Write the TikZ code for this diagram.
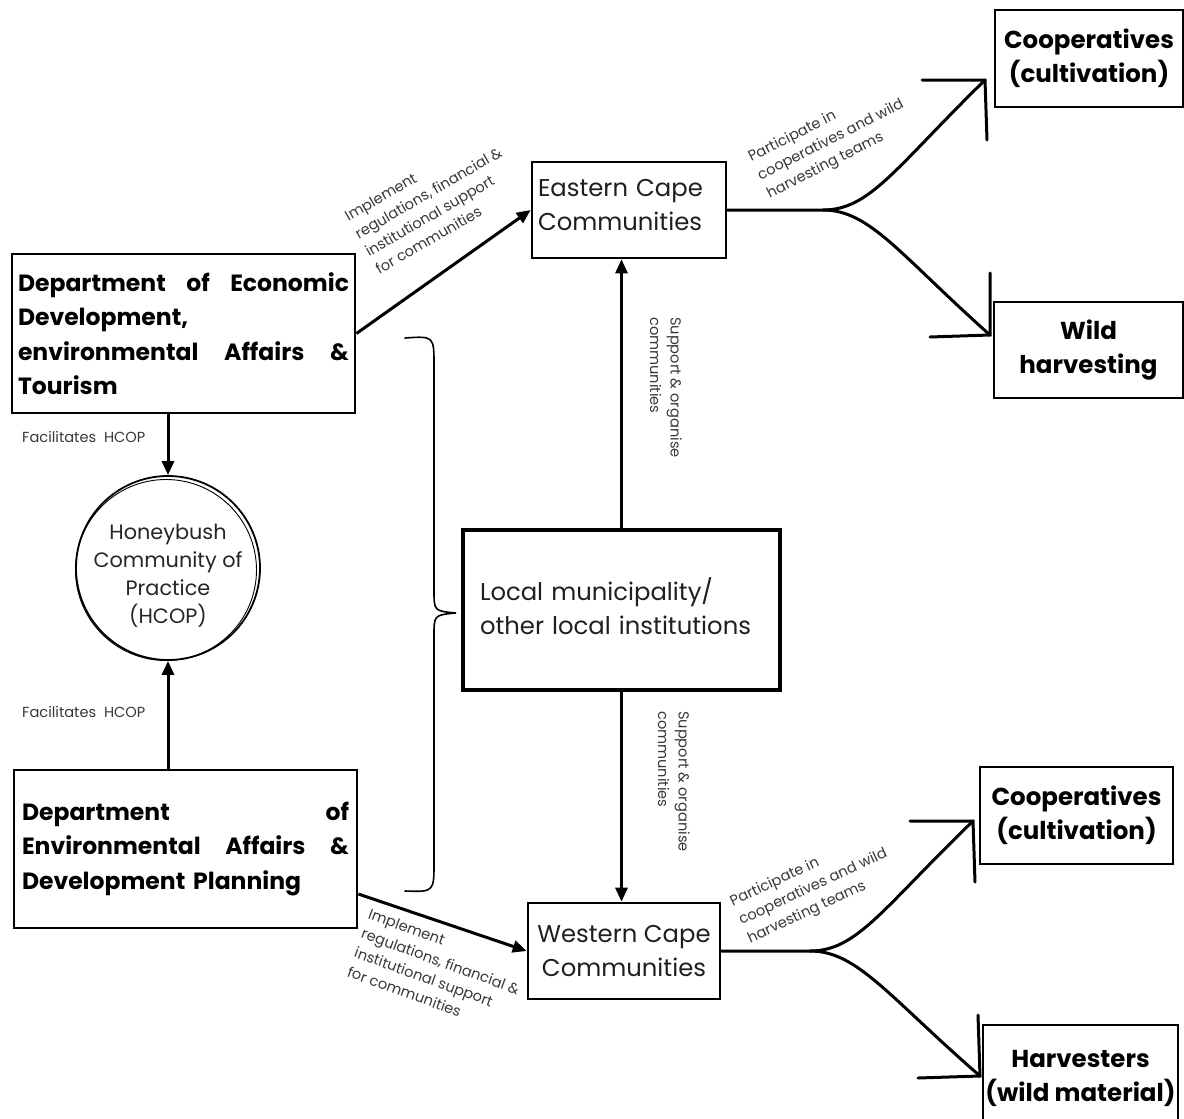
\documentclass[tikz,border=0pt]{standalone}
\usepackage{fontspec}
\setmainfont{Poppins}
\usetikzlibrary{arrows.meta,calc}
\begin{document}
\begin{tikzpicture}[x=1pt,y=-1pt,
  plainbox/.style={draw=black, line width=2.6pt, inner sep=0pt, font=\fontsize{24.3}{34}\selectfont, text=black!88},
  boldbox/.style={draw=black, line width=2.6pt, inner sep=0pt, font=\fontsize{24.5}{34}\selectfont\bfseries, align=center, text=black},
  deptbox/.style={draw=black, line width=2.8pt, inner sep=0pt, font=\fontsize{23.5}{34.5}\selectfont\bfseries, align=left, text=black},
  arr/.style={line width=3pt, -{Triangle[length=14pt,width=12pt]}},
  branch/.style={line width=3pt, line cap=round, line join=miter},
  lbl/.style={font=\fontsize{14.6}{20.5}\selectfont, text=black!78, align=left, inner sep=0pt},
  brace/.style={line width=1.6pt, line cap=round}]
\useasboundingbox (0,0) rectangle (1184,1119);

% department boxes
\node[deptbox, minimum width=343pt, minimum height=159pt, text width=331pt] (dedeat) at (183.5,333.5)
  {\makebox[331pt]{Department\hfill of\hfill Economic}\\Development,\\\makebox[331pt]{environmental\hfill Affairs\hfill\&}\\Tourism};
\node[deptbox, minimum width=343pt, minimum height=158pt, text width=327pt] (deadp) at (185.5,849)
  {\makebox[327pt]{Department\hfill of}\\\makebox[327pt]{Environmental\hfill Affairs\hfill\&}\\Development Planning};

% HCOP circle
\node[circle, draw=black, line width=1.8pt, minimum size=184pt, inner sep=0pt] (hcop) at (168,568) {};
\draw[line width=0.9pt] ([shift={(-2,2)}]hcop.center) circle[radius=90.5];
\node[font=\fontsize{20.8}{28}\selectfont, align=center, text=black!85] (hcoptxt) at (168,576)
  {Honeybush\\Community of\\Practice\\(HCOP)};

% community boxes
\node[plainbox, minimum width=194pt, minimum height=96pt, text width=182pt, align=left] (ec) at (629,210)
  {Eastern Cape\\Communities\\[-23pt]\mbox{}};
\node[plainbox, minimum width=192pt, minimum height=96pt, align=center] (wc) at (624,951)
  {Western Cape\\Communities};
\node[plainbox, line width=4.2pt, minimum width=317pt, minimum height=160pt, text width=283pt, align=left] (lm) at (621.5,610)
  {Local municipality/\\other local institutions\\[-26pt]\mbox{}};

% outcome boxes
\node[boldbox, minimum width=188pt, minimum height=97pt] (coop1) at (1089,58.5) {Cooperatives\\(cultivation)};
\node[boldbox, minimum width=189pt, minimum height=96pt] (wild) at (1088.5,350) {Wild\\harvesting};
\node[boldbox, minimum width=193pt, minimum height=97pt] (coop2) at (1076.5,815.5) {Cooperatives\\(cultivation)};
\node[boldbox, minimum width=195pt, minimum height=106pt] (harv) at (1080.5,1078) {Harvesters\\(wild material)};

% arrows
\draw[arr] (hcop.north |- dedeat.south) -- (hcop.north);
\draw[arr] (hcop.south |- deadp.north) -- (hcop.south);
\draw[arr] (dedeat.east) -- (ec.west);
\draw[arr] ($(deadp.north east)!0.78!(deadp.south east)$) -- (wc.west);
\draw[arr] (lm.north) -- (lm.north |- ec.south);
\draw[arr] (lm.south) -- (lm.south |- wc.north);

% branching connectors (east)
\coordinate (j1) at (823,210);
\coordinate (t1) at (985,80);
\coordinate (t2) at (990,335);
\draw[branch] (ec.east) -- (j1) .. controls (870,210) and (895,168) .. (t1);
\draw[branch] (j1) .. controls (870,210) and (900,255) .. (t2);
\draw[branch] (922,80) -- (t1) -- (987,140);
\draw[branch] (930,337) -- (t2) -- (990,273);

% branching connectors (west)
\coordinate (j2) at (810,951);
\coordinate (t3) at (973,821);
\coordinate (t4) at (980,1076);
\draw[branch] (wc.east) -- (j2) .. controls (857,951) and (882,909) .. (t3);
\draw[branch] (j2) .. controls (857,951) and (887,995) .. (t4);
\draw[branch] (910,821) -- (t3) -- (975,882);
\draw[branch] (918,1078) -- (t4) -- (978,1015);

% brace
\draw[brace] (405,338) .. controls (434,336) .. (434,366) -- (434,590) .. controls (434,611) .. (456,613)
  .. controls (434,615) .. (434,636) -- (434,862) .. controls (434,892) .. (405,891);

% labels
\node[lbl, anchor=west] (fac1) at (22,437) {Facilitates\ \ HCOP};
\node[lbl, anchor=west] (fac2) at (22,712) {Facilitates\ \ HCOP};
\node[lbl, anchor=north west, rotate=30] (impl1) at (343,212)
  {Implement\\regulations, financial \&\\institutional support\\for communities};
\node[lbl, anchor=north west, rotate=-20] (impl2) at (371,908)
  {Implement\\regulations, financial \&\\institutional support\\for communities};
\node[lbl, anchor=north west, rotate=27] (part1) at (746,152)
  {Participate in\\cooperatives and wild\\harvesting teams};
\node[lbl, anchor=north west, rotate=25] (part2) at (728,896)
  {Participate in\\cooperatives and wild\\harvesting teams};
\node[lbl, anchor=north west, rotate=-90] (sup1) at (682,317)
  {Support \& organise\\communities};
\node[lbl, anchor=north west, rotate=-90] (sup2) at (690,711)
  {Support \& organise\\communities};
\end{tikzpicture}
\end{document}
